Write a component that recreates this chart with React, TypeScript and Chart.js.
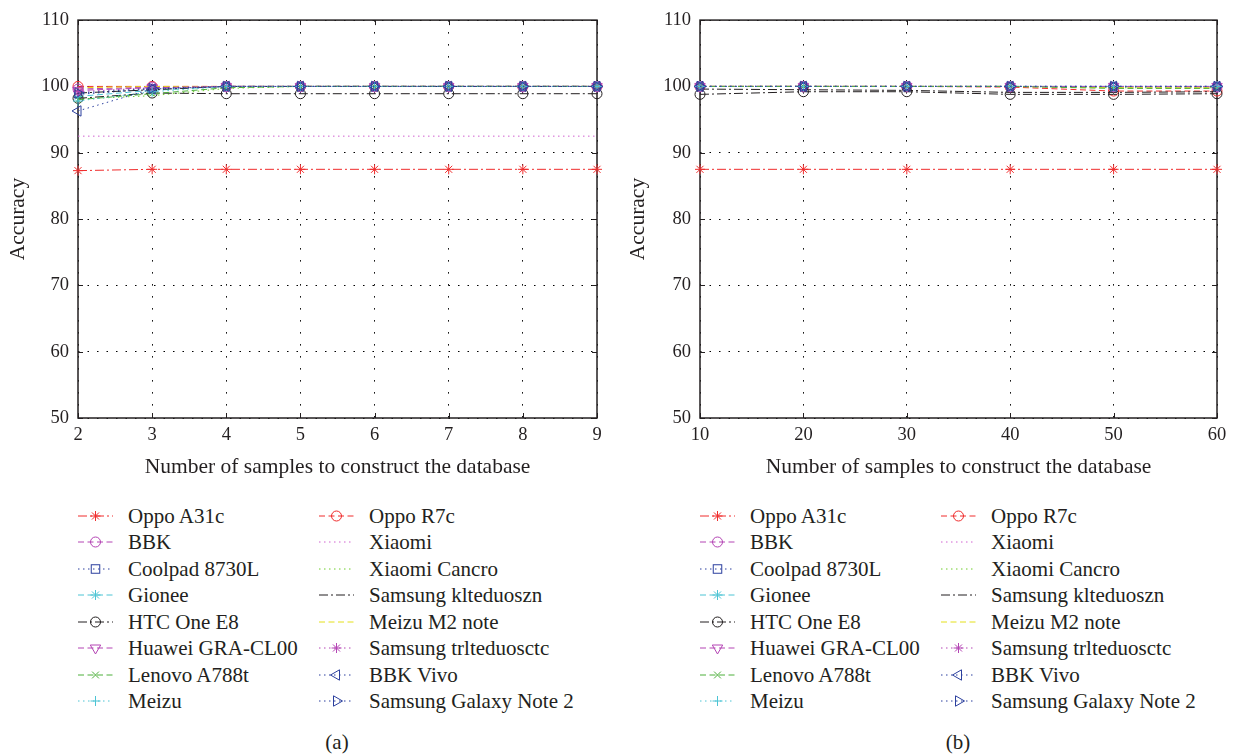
import React, { useEffect, useRef } from "react";
import { Chart, registerables } from "chart.js";

Chart.register(...registerables);

// ---------- data ----------
const xLeft = [2, 3, 4, 5, 6, 7, 8, 9];
const xRight = [10, 20, 30, 40, 50, 60];
const yTicks = [50, 60, 70, 80, 90, 100, 110];

const seriesNames = [
  "Oppo A31c",
  "Oppo R7c",
  "BBK",
  "Xiaomi",
  "Coolpad 8730L",
  "Xiaomi Cancro",
  "Gionee",
  "Samsung klteduoszn",
  "HTC One E8",
  "Meizu M2 note",
  "Huawei GRA-CL00",
  "Samsung trlteduosctc",
  "Lenovo A788t",
  "BBK Vivo",
  "Meizu",
  "Samsung Galaxy Note 2",
];

// panel (a): x = 2..9
const leftOppoA31c = [87.3, 87.5, 87.5, 87.5, 87.5, 87.5, 87.5, 87.5];
const leftOppoR7c = [100, 100, 100, 100, 100, 100, 100, 100];
const leftBBK = [99.6, 99.9, 100, 100, 100, 100, 100, 100];
const leftXiaomi = [92.5, 92.5, 92.5, 92.5, 92.5, 92.5, 92.5, 92.5];
const leftCoolpad = [98.8, 99.6, 100, 100, 100, 100, 100, 100];
const leftXiaomiCancro = [98.1, 98.6, 99.7, 100, 100, 100, 100, 100];
const leftGionee = [98.5, 99.4, 100, 100, 100, 100, 100, 100];
const leftKlteduoszn = [99.0, 99.5, 100, 100, 100, 100, 100, 100];
const leftHTC = [98.2, 99.0, 98.9, 98.9, 98.9, 98.9, 98.9, 98.9];
const leftMeizuM2 = [99.8, 100, 100, 100, 100, 100, 100, 100];
const leftHuawei = [99.4, 99.8, 100, 100, 100, 100, 100, 100];
const leftTrlteduosctc = [99.2, 99.8, 100, 100, 100, 100, 100, 100];
const leftLenovo = [98.0, 98.9, 99.8, 100, 100, 100, 100, 100];
const leftBBKVivo = [96.3, 99.6, 100, 100, 100, 100, 100, 100];
const leftMeizu = [97.8, 99.2, 100, 100, 100, 100, 100, 100];
const leftNote2 = [99.0, 99.7, 100, 100, 100, 100, 100, 100];

// panel (b): x = 10..60
const rightOppoA31c = [87.5, 87.5, 87.5, 87.5, 87.5, 87.5];
const rightOppoR7c = [100, 100, 100, 99.9, 99.3, 99.3];
const rightBBK = [100, 100, 100, 100, 99.9, 99.9];
const rightXiaomi = [100, 100, 100, 100, 99.9, 99.9];
const rightCoolpad = [100, 100, 100, 100, 100, 100];
const rightXiaomiCancro = [100, 100, 100, 100, 99.8, 99.8];
const rightGionee = [100, 100, 100, 100, 100, 100];
const rightKlteduoszn = [99.6, 99.5, 99.4, 99.1, 99.1, 99.2];
const rightHTC = [98.8, 99.2, 99.2, 98.8, 98.8, 98.9];
const rightMeizuM2 = [100, 100, 100, 100, 99.8, 99.8];
const rightHuawei = [100, 100, 100, 100, 100, 100];
const rightTrlteduosctc = [100, 100, 100, 100, 100, 100];
const rightLenovo = [100, 100, 100, 100, 99.7, 99.7];
const rightBBKVivo = [100, 100, 100, 100, 100, 100];
const rightMeizu = [100, 100, 100, 100, 100, 100];
const rightNote2 = [100, 100, 100, 100, 100, 100];

const leftValues = [
  leftOppoA31c, leftOppoR7c, leftBBK, leftXiaomi, leftCoolpad, leftXiaomiCancro,
  leftGionee, leftKlteduoszn, leftHTC, leftMeizuM2, leftHuawei, leftTrlteduosctc,
  leftLenovo, leftBBKVivo, leftMeizu, leftNote2,
];
const rightValues = [
  rightOppoA31c, rightOppoR7c, rightBBK, rightXiaomi, rightCoolpad, rightXiaomiCancro,
  rightGionee, rightKlteduoszn, rightHTC, rightMeizuM2, rightHuawei, rightTrlteduosctc,
  rightLenovo, rightBBKVivo, rightMeizu, rightNote2,
];

// ---------- styles ----------
const TEXT = "#231f20";
const FONT = '"Liberation Serif", "Times New Roman", serif';
const DASH_DOT = [9, 3, 2, 3];
const DASHED = [6, 3.5];
const DOTTED = [1.5, 3.5];

const RED = "#f02c2c";
const MAGENTA = "#b444b4";
const BLUE = "#2b3f9e";
const CYAN = "#4cc4d4";
const BLACK = "#231f20";
const GREEN = "#4caf3a";
const YELLOW = "#e4e01a";
const PINK = "#d060d0";
const LGREEN = "#6ccc28";

type Style = { color: string; dash: number[]; marker: string | false; rotation?: number; radius?: number };

const seriesStyles: Style[] = [
  { color: RED, dash: DASH_DOT, marker: "star", radius: 5 },
  { color: RED, dash: DASHED, marker: "circle", radius: 5 },
  { color: MAGENTA, dash: DASHED, marker: "circle", radius: 5 },
  { color: PINK, dash: DOTTED, marker: false },
  { color: BLUE, dash: DOTTED, marker: "rect", radius: 5 },
  { color: LGREEN, dash: DOTTED, marker: false },
  { color: CYAN, dash: DASHED, marker: "star", radius: 5 },
  { color: BLACK, dash: DASH_DOT, marker: false },
  { color: BLACK, dash: DASH_DOT, marker: "circle", radius: 5 },
  { color: YELLOW, dash: DASHED, marker: false },
  { color: MAGENTA, dash: DASHED, marker: "triangle", rotation: 180, radius: 6 },
  { color: MAGENTA, dash: DOTTED, marker: "star", radius: 5 },
  { color: GREEN, dash: DASHED, marker: "crossRot", radius: 4 },
  { color: BLUE, dash: DOTTED, marker: "triangle", rotation: 270, radius: 6 },
  { color: CYAN, dash: DOTTED, marker: "cross", radius: 5 },
  { color: BLUE, dash: DOTTED, marker: "triangle", rotation: 90, radius: 6 },
];

// legend order (column-major, two columns)
const legendCol1 = ["Oppo A31c", "BBK", "Coolpad 8730L", "Gionee", "HTC One E8", "Huawei GRA-CL00", "Lenovo A788t", "Meizu"];
const legendCol2 = ["Oppo R7c", "Xiaomi", "Xiaomi Cancro", "Samsung klteduoszn", "Meizu M2 note", "Samsung trlteduosctc", "BBK Vivo", "Samsung Galaxy Note 2"];

Chart.defaults.font.family = FONT;
Chart.defaults.color = TEXT;

const boxPlugin = {
  id: "matlabBox",
  beforeDatasetsDraw(chart: any) {
    const { ctx, chartArea: a, scales } = chart;
    ctx.save();
    ctx.strokeStyle = TEXT;
    ctx.setLineDash([]);
    ctx.lineWidth = 1;
    ctx.beginPath();
    scales.x.ticks.forEach((t: any) => {
      const px = Math.round(scales.x.getPixelForValue(t.value)) + 0.5;
      ctx.moveTo(px, a.bottom);
      ctx.lineTo(px, a.bottom - 5);
      ctx.moveTo(px, a.top);
      ctx.lineTo(px, a.top + 5);
    });
    scales.y.ticks.forEach((t: any) => {
      const py = Math.round(scales.y.getPixelForValue(t.value)) + 0.5;
      ctx.moveTo(a.left, py);
      ctx.lineTo(a.left + 5, py);
      ctx.moveTo(a.right, py);
      ctx.lineTo(a.right - 5, py);
    });
    ctx.stroke();
    ctx.lineWidth = 1.5;
    ctx.strokeRect(a.left, a.top, a.right - a.left, a.bottom - a.top);
    ctx.restore();
  },
};

function makeDatasets(xs: number[], values: number[][]) {
  return seriesNames.map((name, i) => {
    const s = seriesStyles[i];
    return {
      label: name,
      data: xs.map((x, j) => ({ x, y: values[i][j] })),
      borderColor: s.color,
      backgroundColor: "rgba(0,0,0,0)",
      borderWidth: 1,
      borderDash: s.dash,
      pointStyle: s.marker || "circle",
      pointRadius: s.marker ? s.radius : 0,
      pointRotation: s.rotation || 0,
      pointBorderColor: s.color,
      pointBackgroundColor: "rgba(0,0,0,0)",
      pointBorderWidth: 1,
      tension: 0,
      clip: false,
      order: seriesNames.length - i,
    };
  });
}

type PanelProps = {
  left: number;
  width: number;
  xs: number[];
  values: number[][];
  step: number;
  yAxisWidth: number;
  padRight: number;
};

const CANVAS_H = 488;

function Panel({ left, width, xs, values, step, yAxisWidth, padRight }: PanelProps) {
  const ref = useRef<HTMLCanvasElement>(null);
  useEffect(() => {
    const chart = new Chart(ref.current as HTMLCanvasElement, {
      type: "line",
      data: { datasets: makeDatasets(xs, values) as any },
      options: {
        animation: false,
        responsive: false,
        events: [],
        layout: { padding: { top: 11, right: padRight, left: 0, bottom: 0 } },
        plugins: { legend: { display: false }, tooltip: { enabled: false } },
        scales: {
          x: {
            type: "linear",
            min: xs[0],
            max: xs[xs.length - 1],
            ticks: { stepSize: step, color: TEXT, font: { size: 18.5 }, padding: 6, maxRotation: 0, autoSkip: false },
            grid: { color: "#000", lineWidth: 1, drawTicks: false },
            border: { display: false, dash: [1.5, 10.5] },
            title: {
              display: true,
              text: "Number of samples to construct the database",
              color: TEXT,
              font: { size: 21.5 },
              padding: { top: 0, bottom: 8 },
            },
            afterFit: (s: any) => {
              s.height = 70;
            },
          },
          y: {
            type: "linear",
            min: yTicks[0],
            max: yTicks[yTicks.length - 1],
            ticks: { stepSize: 10, color: TEXT, font: { size: 18.5 }, padding: 9 },
            grid: { color: "#000", lineWidth: 1, drawTicks: false },
            border: { display: false, dash: [1.5, 8] },
            title: {
              display: true,
              text: "Accuracy",
              color: TEXT,
              font: { size: 21.5 },
              padding: { top: 5.5, bottom: 0 },
            },
            afterFit: (s: any) => {
              s.width = yAxisWidth;
            },
          },
        },
      } as any,
      plugins: [boxPlugin],
    });
    return () => chart.destroy();
  }, []);
  return (
    <canvas
      ref={ref}
      width={width}
      height={CANVAS_H}
      style={{ position: "absolute", left, top: 0, width, height: CANVAS_H }}
    />
  );
}

function Marker({ s, cx, cy }: { s: Style; cx: number; cy: number }) {
  const r = s.radius || 5;
  const c = s.color;
  const common = { stroke: c, strokeWidth: 1, fill: "none" } as any;
  if (!s.marker) return null;
  if (s.marker === "circle") return <circle cx={cx} cy={cy} r={r} {...common} />;
  if (s.marker === "rect") {
    const h = r * 0.85;
    return <rect x={cx - h} y={cy - h} width={2 * h} height={2 * h} {...common} />;
  }
  if (s.marker === "cross")
    return <path d={`M${cx - r} ${cy}H${cx + r}M${cx} ${cy - r}V${cy + r}`} {...common} />;
  if (s.marker === "crossRot") {
    const d = r * Math.SQRT1_2 * 1.2;
    return <path d={`M${cx - d} ${cy - d}L${cx + d} ${cy + d}M${cx - d} ${cy + d}L${cx + d} ${cy - d}`} {...common} />;
  }
  if (s.marker === "star") {
    const d = r * Math.SQRT1_2;
    return (
      <path
        d={`M${cx - r} ${cy}H${cx + r}M${cx} ${cy - r}V${cy + r}M${cx - d} ${cy - d}L${cx + d} ${cy + d}M${cx - d} ${cy + d}L${cx + d} ${cy - d}`}
        {...common}
      />
    );
  }
  if (s.marker === "triangle") {
    const rot = ((s.rotation || 0) * Math.PI) / 180;
    const pts: string[] = [];
    for (let k = 0; k < 3; k++) {
      const a = rot + (k * 2 * Math.PI) / 3;
      pts.push(`${cx + Math.sin(a) * r},${cy - Math.cos(a) * r}`);
    }
    return <polygon points={pts.join(" ")} {...common} />;
  }
  return null;
}

const ROW0 = 515.5;
const ROW_STEP = 26.5;

function LegendColumn({ names, x }: { names: string[]; x: number }) {
  return (
    <>
      {names.map((name, i) => {
        const s = seriesStyles[seriesNames.indexOf(name)];
        const cy = ROW0 + ROW_STEP * i;
        return (
          <React.Fragment key={name}>
            <svg
              width={36}
              height={16}
              style={{ position: "absolute", left: x, top: cy - 8, overflow: "visible" }}
            >
              <line x1={0} y1={8} x2={35} y2={8} stroke={s.color} strokeWidth={1} strokeDasharray={s.dash.join(" ")} />
              <Marker s={s} cx={17.5} cy={8} />
            </svg>
            <div
              style={{
                position: "absolute",
                left: x + 50,
                top: cy - 13,
                height: 26,
                lineHeight: "26px",
                fontSize: 21,
                fontFamily: FONT,
                color: TEXT,
                whiteSpace: "nowrap",
              }}
            >
              {name}
            </div>
          </React.Fragment>
        );
      })}
    </>
  );
}

function Caption({ text, cx }: { text: string; cx: number }) {
  return (
    <div
      style={{
        position: "absolute",
        left: cx - 40,
        width: 80,
        top: 729,
        lineHeight: "26px",
        textAlign: "center",
        fontSize: 21,
        fontFamily: FONT,
        color: TEXT,
      }}
    >
      {text}
    </div>
  );
}

export default function App() {
  return (
    <div
      style={{
        position: "absolute",
        left: 0,
        top: 0,
        width: 1238,
        height: 754,
        background: "#ffffff",
        overflow: "hidden",
      }}
    >
      <Panel left={0} width={620} xs={xLeft} values={leftValues} step={1} yAxisWidth={78} padRight={23} />
      <Panel left={620} width={618} xs={xRight} values={rightValues} step={10} yAxisWidth={80} padRight={21} />
      <LegendColumn names={legendCol1} x={78} />
      <LegendColumn names={legendCol2} x={319} />
      <LegendColumn names={legendCol1} x={700} />
      <LegendColumn names={legendCol2} x={941} />
      <Caption text="(a)" cx={337} />
      <Caption text="(b)" cx={958} />
    </div>
  );
}
